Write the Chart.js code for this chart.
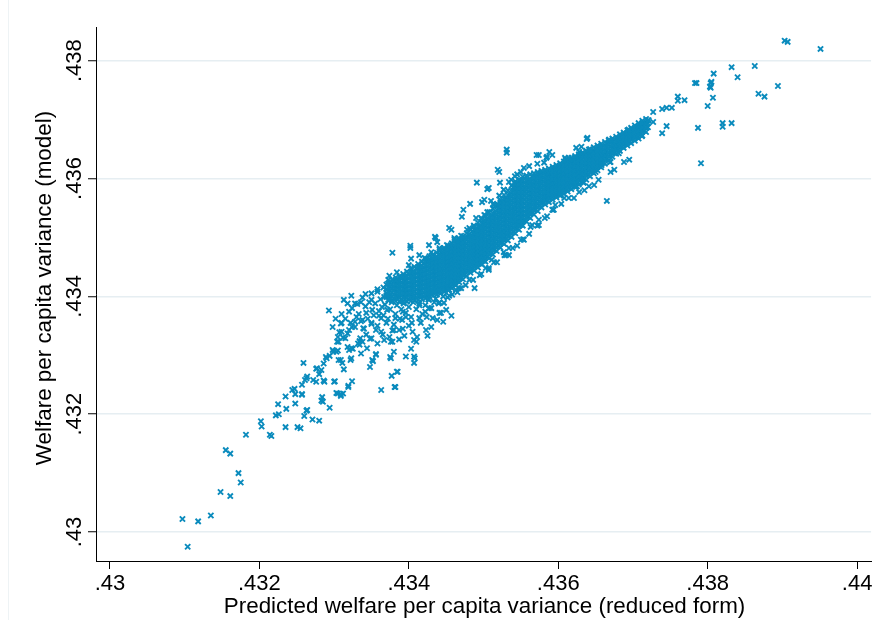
<!DOCTYPE html>
<html>
<head>
<meta charset="utf-8">
<script src="https://cdn.jsdelivr.net/npm/chart.js@4.4.1/dist/chart.umd.min.js"></script>
<style>
  html, body { margin: 0; padding: 0; background: #fff; }
  canvas { display: block; }
</style>
</head>
<body>
<canvas id="chart" width="877" height="620"></canvas>
<script>
// all values below are in thousandths (434.25 means .43425)
const xTicks = [430, 432, 434, 436, 438, 440];
const yTicks = [430, 432, 434, 436, 438];
const xTitle = "Predicted welfare per capita variance (reduced form)";
const yTitle = "Welfare per capita variance (model)";

// dense core of the cloud, one column of y values per x
const coreX = [433.70, 433.75, 433.80, 433.85, 433.90, 433.95, 434.00, 434.05, 434.10, 434.15,
  434.20, 434.25, 434.30, 434.35, 434.40, 434.45, 434.50, 434.55, 434.60, 434.65,
  434.70, 434.75, 434.80, 434.85, 434.90, 434.95, 435.00, 435.05, 435.10, 435.15,
  435.20, 435.25, 435.30, 435.35, 435.40, 435.45, 435.50, 435.55, 435.60, 435.65,
  435.70, 435.75, 435.80, 435.85, 435.90, 435.95, 436.00, 436.05, 436.10, 436.15,
  436.20, 436.25, 436.30, 436.35, 436.40, 436.45, 436.50, 436.55, 436.60, 436.65,
  436.70, 436.75, 436.80, 436.85, 436.90, 436.95, 437.00, 437.05, 437.10, 437.15, 437.20];
const coreY = [
  [433.99, 434.06, 434.13, 434.20],
  [434.02, 434.09, 434.16, 434.23],
  [433.97, 434.04, 434.11, 434.18, 434.25],
  [434.00, 434.07, 434.14, 434.21, 434.28],
  [433.96, 434.03, 434.10, 434.17, 434.24, 434.31],
  [433.99, 434.06, 434.13, 434.20, 434.27, 434.34],
  [433.96, 434.03, 434.10, 434.17, 434.24, 434.31, 434.38],
  [433.99, 434.06, 434.13, 434.20, 434.27, 434.34, 434.41],
  [433.98, 434.05, 434.12, 434.19, 434.26, 434.33, 434.40, 434.47],
  [434.01, 434.08, 434.15, 434.22, 434.29, 434.36, 434.43, 434.50],
  [434.00, 434.07, 434.14, 434.21, 434.28, 434.35, 434.42, 434.49, 434.56],
  [434.03, 434.10, 434.17, 434.24, 434.31, 434.38, 434.45, 434.52, 434.59],
  [434.05, 434.12, 434.19, 434.26, 434.33, 434.40, 434.47, 434.54, 434.61],
  [434.08, 434.15, 434.22, 434.29, 434.36, 434.43, 434.50, 434.57, 434.64],
  [434.09, 434.16, 434.23, 434.30, 434.37, 434.44, 434.51, 434.58, 434.65, 434.71],
  [434.12, 434.19, 434.26, 434.33, 434.40, 434.47, 434.54, 434.61, 434.68, 434.75],
  [434.14, 434.21, 434.28, 434.35, 434.42, 434.49, 434.56, 434.63, 434.70, 434.77],
  [434.17, 434.24, 434.31, 434.38, 434.45, 434.52, 434.59, 434.66, 434.73, 434.80],
  [434.21, 434.28, 434.35, 434.42, 434.49, 434.56, 434.63, 434.70, 434.77, 434.84],
  [434.26, 434.33, 434.40, 434.47, 434.54, 434.61, 434.68, 434.75, 434.82, 434.89],
  [434.31, 434.38, 434.45, 434.52, 434.59, 434.66, 434.73, 434.80, 434.87, 434.94],
  [434.37, 434.44, 434.51, 434.58, 434.65, 434.72, 434.79, 434.86, 434.93, 434.99],
  [434.43, 434.50, 434.57, 434.64, 434.71, 434.78, 434.85, 434.92, 434.99, 435.05],
  [434.47, 434.54, 434.61, 434.68, 434.75, 434.82, 434.89, 434.96, 435.03, 435.10],
  [434.51, 434.58, 434.65, 434.72, 434.79, 434.86, 434.93, 435.00, 435.07, 435.14],
  [434.56, 434.63, 434.70, 434.77, 434.84, 434.91, 434.98, 435.05, 435.12, 435.19],
  [434.61, 434.68, 434.75, 434.82, 434.89, 434.96, 435.03, 435.10, 435.17, 435.24],
  [434.67, 434.74, 434.81, 434.88, 434.95, 435.02, 435.09, 435.16, 435.23, 435.30],
  [434.73, 434.80, 434.87, 434.94, 435.01, 435.08, 435.15, 435.22, 435.29, 435.36],
  [434.79, 434.86, 434.93, 435.00, 435.07, 435.14, 435.21, 435.28, 435.35, 435.42],
  [434.85, 434.92, 434.99, 435.06, 435.13, 435.20, 435.27, 435.34, 435.41, 435.48, 435.55],
  [434.91, 434.98, 435.05, 435.12, 435.19, 435.26, 435.33, 435.40, 435.47, 435.54, 435.61],
  [434.97, 435.04, 435.11, 435.18, 435.25, 435.32, 435.39, 435.46, 435.53, 435.60, 435.67],
  [435.03, 435.10, 435.17, 435.24, 435.31, 435.38, 435.45, 435.52, 435.59, 435.66, 435.73],
  [435.09, 435.16, 435.23, 435.30, 435.37, 435.44, 435.51, 435.58, 435.65, 435.72, 435.79, 435.85],
  [435.15, 435.22, 435.29, 435.36, 435.43, 435.50, 435.57, 435.64, 435.71, 435.78, 435.85, 435.92],
  [435.21, 435.28, 435.35, 435.42, 435.49, 435.56, 435.63, 435.70, 435.77, 435.84, 435.91, 435.97],
  [435.29, 435.36, 435.43, 435.50, 435.57, 435.64, 435.71, 435.78, 435.85, 435.92, 435.99],
  [435.35, 435.42, 435.49, 435.56, 435.63, 435.70, 435.77, 435.84, 435.91, 435.98],
  [435.41, 435.48, 435.55, 435.62, 435.69, 435.76, 435.83, 435.90, 435.97, 436.03],
  [435.47, 435.54, 435.61, 435.68, 435.75, 435.82, 435.89, 435.96, 436.03],
  [435.53, 435.60, 435.67, 435.74, 435.81, 435.88, 435.95, 436.02, 436.07],
  [435.59, 435.66, 435.73, 435.80, 435.87, 435.94, 436.01, 436.08],
  [435.63, 435.70, 435.77, 435.84, 435.91, 435.98, 436.05, 436.11],
  [435.67, 435.74, 435.81, 435.88, 435.95, 436.02, 436.09, 436.14],
  [435.71, 435.78, 435.85, 435.92, 435.99, 436.06, 436.13, 436.17],
  [435.74, 435.81, 435.88, 435.95, 436.02, 436.09, 436.16, 436.20],
  [435.77, 435.84, 435.91, 435.98, 436.05, 436.12, 436.19, 436.23],
  [435.81, 435.88, 435.95, 436.02, 436.09, 436.16, 436.23, 436.26],
  [435.85, 435.92, 435.99, 436.06, 436.13, 436.20, 436.27],
  [435.89, 435.96, 436.03, 436.10, 436.17, 436.24, 436.31],
  [435.93, 436.00, 436.07, 436.14, 436.21, 436.28, 436.35],
  [435.97, 436.04, 436.11, 436.18, 436.25, 436.32, 436.38],
  [436.01, 436.08, 436.15, 436.22, 436.29, 436.36, 436.41],
  [436.06, 436.13, 436.20, 436.27, 436.34, 436.41, 436.44],
  [436.11, 436.18, 436.25, 436.32, 436.39, 436.46],
  [436.16, 436.23, 436.30, 436.37, 436.44, 436.50],
  [436.21, 436.28, 436.35, 436.42, 436.49, 436.53],
  [436.27, 436.34, 436.41, 436.48, 436.55],
  [436.33, 436.40, 436.47, 436.54, 436.59],
  [436.39, 436.46, 436.53, 436.60],
  [436.44, 436.51, 436.58, 436.65],
  [436.49, 436.56, 436.63, 436.68],
  [436.54, 436.61, 436.68, 436.72],
  [436.59, 436.66, 436.73],
  [436.63, 436.70, 436.77],
  [436.67, 436.74, 436.81],
  [436.71, 436.78, 436.85],
  [436.75, 436.82, 436.89],
  [436.81, 436.88, 436.94],
  [436.87, 436.94, 436.99]
];

// in-between columns of the core, first number of each row is x
const coreFill = [
  [433.725, 433.94, 434.01, 434.08, 434.15, 434.22, 434.28],
  [433.775, 433.93, 434.00, 434.07, 434.14, 434.21, 434.28],
  [433.825, 433.92, 433.99, 434.06, 434.13, 434.20, 434.27, 434.32],
  [433.875, 433.91, 433.98, 434.05, 434.12, 434.19, 434.26, 434.34],
  [433.925, 433.91, 433.98, 434.05, 434.12, 434.19, 434.26, 434.33, 434.38],
  [433.975, 433.91, 433.98, 434.05, 434.12, 434.19, 434.26, 434.33, 434.42],
  [434.025, 433.92, 433.99, 434.06, 434.13, 434.20, 434.27, 434.34, 434.41, 434.47],
  [434.075, 433.93, 434.00, 434.07, 434.14, 434.21, 434.28, 434.35, 434.42, 434.50],
  [434.125, 433.94, 434.01, 434.08, 434.15, 434.22, 434.29, 434.36, 434.43, 434.50, 434.55],
  [434.175, 433.95, 434.02, 434.09, 434.16, 434.23, 434.30, 434.37, 434.44, 434.51, 434.59],
  [434.225, 433.97, 434.04, 434.11, 434.18, 434.25, 434.32, 434.39, 434.46, 434.53, 434.60, 434.64],
  [434.275, 433.99, 434.06, 434.13, 434.20, 434.27, 434.34, 434.41, 434.48, 434.55, 434.62, 434.68],
  [434.325, 434.01, 434.08, 434.15, 434.22, 434.29, 434.36, 434.43, 434.50, 434.57, 434.64, 434.71],
  [434.375, 434.03, 434.10, 434.17, 434.24, 434.31, 434.38, 434.45, 434.52, 434.59, 434.66, 434.74],
  [434.425, 434.05, 434.12, 434.19, 434.26, 434.33, 434.40, 434.47, 434.54, 434.61, 434.68, 434.78],
  [434.475, 434.08, 434.15, 434.22, 434.29, 434.36, 434.43, 434.50, 434.57, 434.64, 434.71, 434.78, 434.82],
  [434.525, 434.11, 434.18, 434.25, 434.32, 434.39, 434.46, 434.53, 434.60, 434.67, 434.74, 434.81, 434.86],
  [434.575, 434.14, 434.21, 434.28, 434.35, 434.42, 434.49, 434.56, 434.63, 434.70, 434.77, 434.84, 434.90],
  [434.625, 434.19, 434.26, 434.33, 434.40, 434.47, 434.54, 434.61, 434.68, 434.75, 434.82, 434.89, 434.94],
  [434.675, 434.24, 434.31, 434.38, 434.45, 434.52, 434.59, 434.66, 434.73, 434.80, 434.87, 434.94, 434.98],
  [434.725, 434.29, 434.36, 434.43, 434.50, 434.57, 434.64, 434.71, 434.78, 434.85, 434.92, 434.99, 435.02],
  [434.775, 434.35, 434.42, 434.49, 434.56, 434.63, 434.70, 434.77, 434.84, 434.91, 434.98, 435.07],
  [434.825, 434.40, 434.47, 434.54, 434.61, 434.68, 434.75, 434.82, 434.89, 434.96, 435.03, 435.13],
  [434.875, 434.44, 434.51, 434.58, 434.65, 434.72, 434.79, 434.86, 434.93, 435.00, 435.07, 435.14, 435.19],
  [434.925, 434.49, 434.56, 434.63, 434.70, 434.77, 434.84, 434.91, 434.98, 435.05, 435.12, 435.19, 435.25],
  [434.975, 434.54, 434.61, 434.68, 434.75, 434.82, 434.89, 434.96, 435.03, 435.10, 435.17, 435.24, 435.31],
  [435.025, 434.59, 434.66, 434.73, 434.80, 434.87, 434.94, 435.01, 435.08, 435.15, 435.22, 435.29, 435.37],
  [435.075, 434.65, 434.72, 434.79, 434.86, 434.93, 435.00, 435.07, 435.14, 435.21, 435.28, 435.35, 435.43],
  [435.125, 434.71, 434.78, 434.85, 434.92, 434.99, 435.06, 435.13, 435.20, 435.27, 435.34, 435.41, 435.49],
  [435.175, 434.77, 434.84, 434.91, 434.98, 435.05, 435.12, 435.19, 435.26, 435.33, 435.40, 435.47, 435.56],
  [435.225, 434.83, 434.90, 434.97, 435.04, 435.11, 435.18, 435.25, 435.32, 435.39, 435.46, 435.53, 435.60, 435.64],
  [435.275, 434.89, 434.96, 435.03, 435.10, 435.17, 435.24, 435.31, 435.38, 435.45, 435.52, 435.59, 435.66, 435.72],
  [435.325, 434.95, 435.02, 435.09, 435.16, 435.23, 435.30, 435.37, 435.44, 435.51, 435.58, 435.65, 435.72, 435.80],
  [435.375, 435.01, 435.08, 435.15, 435.22, 435.29, 435.36, 435.43, 435.50, 435.57, 435.64, 435.71, 435.78, 435.88],
  [435.425, 435.07, 435.14, 435.21, 435.28, 435.35, 435.42, 435.49, 435.56, 435.63, 435.70, 435.77, 435.84, 435.91, 435.95],
  [435.475, 435.13, 435.20, 435.27, 435.34, 435.41, 435.48, 435.55, 435.62, 435.69, 435.76, 435.83, 435.90, 435.98],
  [435.525, 435.20, 435.27, 435.34, 435.41, 435.48, 435.55, 435.62, 435.69, 435.76, 435.83, 435.90, 435.97, 436.03],
  [435.575, 435.27, 435.34, 435.41, 435.48, 435.55, 435.62, 435.69, 435.76, 435.83, 435.90, 435.97, 436.05],
  [435.625, 435.33, 435.40, 435.47, 435.54, 435.61, 435.68, 435.75, 435.82, 435.89, 435.96, 436.07],
  [435.675, 435.39, 435.46, 435.53, 435.60, 435.67, 435.74, 435.81, 435.88, 435.95, 436.02, 436.09],
  [435.725, 435.45, 435.52, 435.59, 435.66, 435.73, 435.80, 435.87, 435.94, 436.01, 436.08, 436.11],
  [435.775, 435.51, 435.58, 435.65, 435.72, 435.79, 435.86, 435.93, 436.00, 436.07, 436.13],
  [435.825, 435.56, 435.63, 435.70, 435.77, 435.84, 435.91, 435.98, 436.05, 436.12, 436.15],
  [435.875, 435.60, 435.67, 435.74, 435.81, 435.88, 435.95, 436.02, 436.09, 436.17],
  [435.925, 435.64, 435.71, 435.78, 435.85, 435.92, 435.99, 436.06, 436.13, 436.20],
  [435.975, 435.68, 435.75, 435.82, 435.89, 435.96, 436.03, 436.10, 436.17, 436.23],
  [436.025, 435.71, 435.78, 435.85, 435.92, 435.99, 436.06, 436.13, 436.20, 436.26],
  [436.075, 435.74, 435.81, 435.88, 435.95, 436.02, 436.09, 436.16, 436.23, 436.29],
  [436.125, 435.78, 435.85, 435.92, 435.99, 436.06, 436.13, 436.20, 436.27, 436.32],
  [436.175, 435.82, 435.89, 435.96, 436.03, 436.10, 436.17, 436.24, 436.31, 436.35],
  [436.225, 435.86, 435.93, 436.00, 436.07, 436.14, 436.21, 436.28, 436.35, 436.38],
  [436.275, 435.90, 435.97, 436.04, 436.11, 436.18, 436.25, 436.32, 436.41],
  [436.325, 435.94, 436.01, 436.08, 436.15, 436.22, 436.29, 436.36, 436.44],
  [436.375, 435.98, 436.05, 436.12, 436.19, 436.26, 436.33, 436.40, 436.47],
  [436.425, 436.04, 436.11, 436.18, 436.25, 436.32, 436.39, 436.46, 436.50],
  [436.475, 436.09, 436.16, 436.23, 436.30, 436.37, 436.44, 436.53],
  [436.525, 436.14, 436.21, 436.28, 436.35, 436.42, 436.49, 436.56],
  [436.575, 436.19, 436.26, 436.33, 436.40, 436.47, 436.54, 436.59],
  [436.625, 436.25, 436.32, 436.39, 436.46, 436.53, 436.62],
  [436.675, 436.31, 436.38, 436.45, 436.52, 436.59, 436.65],
  [436.725, 436.37, 436.44, 436.51, 436.58, 436.64, 436.68],
  [436.775, 436.42, 436.49, 436.56, 436.63, 436.71],
  [436.825, 436.47, 436.54, 436.61, 436.68, 436.75],
  [436.875, 436.52, 436.59, 436.66, 436.73, 436.78],
  [436.925, 436.56, 436.63, 436.70, 436.78, 436.82],
  [436.975, 436.60, 436.67, 436.74, 436.81, 436.86],
  [437.025, 436.64, 436.71, 436.78, 436.85, 436.90],
  [437.075, 436.68, 436.75, 436.82, 436.89, 436.94],
  [437.125, 436.73, 436.80, 436.87, 436.94, 436.98],
  [437.175, 436.79, 436.86, 436.93, 437.01]
];

// sparse lower-left tail
const tailPoints = [
  [430.97, 430.22], [431.04, 429.75], [431.18, 430.18], [431.35, 430.28], [431.48, 430.68],
  [431.61, 430.61], [431.72, 431.00], [431.75, 430.84], [431.55, 431.39], [431.61, 431.33],
  [431.82, 431.65], [432.02, 431.88], [432.03, 431.79], [432.14, 431.65], [432.16, 431.63],
  [432.22, 431.98], [432.26, 432.00], [432.25, 432.17], [432.35, 432.30], [432.36, 432.09],
  [432.35, 431.78], [432.44, 432.41], [432.47, 432.43], [432.48, 432.18], [432.51, 431.78],
  [432.55, 431.76], [432.71, 431.91], [432.80, 431.89], [432.60, 431.97], [432.63, 432.06],
  [432.64, 432.07], [432.48, 432.34], [432.57, 432.33], [432.57, 432.50], [432.61, 432.58],
  [432.64, 432.64], [432.72, 432.58], [432.76, 432.55], [432.76, 432.77], [432.80, 432.68],
  [432.86, 432.57], [432.83, 432.23], [432.85, 432.21], [432.94, 432.11], [432.86, 432.86],
  [432.90, 432.95], [432.94, 432.99], [433.01, 432.56], [433.05, 432.35], [433.09, 432.31],
  [433.12, 432.35], [433.19, 432.48], [433.24, 432.56], [432.99, 433.06], [433.05, 433.08],
  [433.06, 432.92], [433.13, 432.76], [433.22, 432.92], [433.07, 433.39], [433.06, 433.23],
  [433.09, 433.54], [432.93, 433.76], [432.59, 432.87], [432.84, 432.29], [432.63, 432.61],
  [432.87, 432.55], [433.00, 432.55], [432.77, 432.78], [432.83, 432.75], [432.89, 432.97],
  [433.03, 433.06], [433.09, 432.92], [433.11, 432.87], [433.23, 432.95], [433.19, 432.46],
  [433.03, 432.36], [433.09, 432.34], [432.57, 432.34]
];

// looser blob below the start of the core
const blobPoints = [
  [433.18, 433.37], [433.20, 433.09], [433.25, 433.11], [433.48, 432.80], [433.51, 432.92],
  [433.63, 432.41], [433.77, 432.65], [433.81, 432.46], [433.85, 432.72], [433.96, 432.98],
  [434.07, 432.87], [434.07, 432.98], [434.03, 433.11], [433.75, 432.97], [433.56, 433.02],
  [433.36, 433.03], [433.34, 433.24], [433.43, 433.35], [433.58, 433.20], [433.78, 433.23],
  [433.87, 433.27], [433.10, 433.55], [433.20, 433.74], [433.24, 433.80], [433.36, 433.90],
  [433.52, 432.90], [433.56, 433.01], [433.76, 432.95], [433.84, 432.72], [433.82, 432.46],
  [434.08, 432.95], [433.80, 433.06], [433.74, 433.31], [433.76, 433.23], [433.56, 433.43],
  [433.35, 433.29], [433.38, 433.23], [433.20, 433.43], [433.24, 433.48], [433.10, 433.40],
  [433.05, 433.31], [432.98, 433.09], [433.04, 433.23], [433.23, 433.12], [433.18, 433.14],
  [433.30, 433.65], [433.38, 433.60], [433.43, 433.72], [433.47, 433.90], [433.51, 433.77],
  [433.63, 433.63], [433.70, 433.55], [433.63, 433.40], [433.64, 433.82], [433.74, 433.94],
  [433.87, 433.43], [433.91, 433.60], [433.96, 433.65], [434.04, 433.55], [434.11, 433.31],
  [434.10, 433.23], [434.23, 433.43], [434.30, 433.48], [434.38, 433.60], [434.43, 433.72],
  [434.50, 433.77], [434.63, 434.11], [434.70, 434.14], [434.36, 433.96],
  [433.15, 433.62], [433.22, 433.55], [433.28, 433.48], [433.33, 433.70], [433.36, 433.58],
  [433.40, 433.45], [433.42, 433.83], [433.45, 433.62], [433.50, 433.55], [433.53, 433.68],
  [433.55, 433.88], [433.58, 433.50], [433.60, 433.75], [433.62, 433.95], [433.66, 433.68],
  [433.68, 433.86], [433.70, 434.02], [433.72, 433.62], [433.75, 433.78], [433.77, 433.90],
  [433.80, 433.52], [433.82, 433.70], [433.84, 433.85], [433.88, 433.62], [433.90, 433.78],
  [433.93, 433.88], [433.96, 433.72], [434.00, 433.82], [434.03, 433.65], [434.06, 433.90],
  [434.10, 433.78], [434.14, 433.88], [434.18, 433.70], [434.22, 433.85], [434.26, 433.95],
  [434.30, 433.80], [434.34, 433.90], [434.40, 433.88], [434.46, 434.00], [434.52, 433.98],
  [433.48, 433.28], [433.65, 433.35], [433.78, 433.42], [433.92, 433.45], [434.05, 433.40],
  [434.16, 433.55], [434.24, 433.65], [433.32, 433.20], [433.44, 433.12], [433.28, 433.88],
  [433.18, 433.88], [433.10, 433.70], [433.02, 433.62], [432.98, 433.48], [433.12, 433.30],
  [433.38, 433.98], [433.50, 434.05], [433.58, 434.12], [433.66, 434.15],
  [433.13, 433.94], [433.23, 434.01], [433.31, 433.87], [433.42, 434.04], [433.50, 433.94],
  [433.58, 434.08], [433.67, 433.99], [433.28, 433.57], [433.39, 433.46], [433.50, 433.53],
  [433.60, 433.67], [433.71, 433.77], [433.82, 433.63], [433.92, 433.74], [434.00, 433.50],
  [434.14, 433.63], [434.22, 433.74], [434.32, 433.63], [434.46, 433.57], [434.57, 433.67],
  [433.15, 433.29], [433.34, 433.18], [433.80, 433.43], [433.94, 433.33], [434.07, 433.26],
  [434.25, 433.33], [433.67, 433.26], [433.50, 433.29]
];

// scattered points along the edges of the core
const edgePoints = [
  [433.78, 434.74], [434.02, 434.86], [434.02, 434.82], [434.27, 434.87], [434.35, 435.01],
  [434.36, 434.99], [434.38, 434.92], [434.03, 434.64], [434.54, 435.16], [434.57, 435.13],
  [434.71, 435.35], [434.73, 435.47], [434.82, 435.57], [434.98, 435.60], [435.01, 435.64],
  [434.91, 435.93], [435.05, 435.82], [435.07, 435.84], [435.22, 435.93], [435.19, 436.15],
  [435.21, 436.11], [435.31, 436.49], [435.31, 436.44], [435.71, 436.40], [435.85, 436.37],
  [435.92, 436.40], [435.74, 436.40], [435.88, 436.45], [435.84, 436.35], [436.09, 436.35],
  [436.10, 436.32], [436.28, 436.45], [436.24, 436.52], [436.31, 436.54], [436.39, 436.69],
  [436.70, 436.28], [436.58, 436.23], [436.50, 436.11], [436.34, 435.93], [436.24, 435.86],
  [436.25, 435.87], [436.08, 435.67], [435.96, 435.55], [435.92, 435.47], [435.74, 435.30],
  [435.65, 435.21], [435.63, 435.18], [435.53, 434.97], [435.34, 434.82], [435.27, 434.75],
  [435.30, 434.70], [435.11, 434.62], [435.14, 434.58], [435.03, 434.48], [434.88, 434.14],
  [434.67, 434.14], [434.47, 433.89], [434.41, 433.72], [436.65, 435.62], [436.81, 436.43],
  [434.14, 434.70], [434.41, 434.82], [434.61, 434.96], [434.81, 435.16], [435.01, 435.38],
  [435.14, 435.55], [435.27, 435.81], [435.37, 435.98], [435.54, 436.18], [435.81, 436.27],
  [436.14, 436.35], [436.41, 436.49], [436.68, 436.66], [436.94, 436.83],
  [434.27, 433.94], [434.54, 434.11], [434.81, 434.28], [435.07, 434.45], [435.34, 434.70],
  [435.54, 434.96], [435.74, 435.21], [435.94, 435.47], [436.21, 435.67], [436.48, 435.89],
  [436.75, 436.15], [436.95, 436.32], [434.58, 434.03], [434.95, 434.36], [435.45, 434.86],
  [435.85, 435.36], [436.35, 435.80], [434.90, 435.33], [435.10, 435.62], [435.45, 436.07]
];

// ragged fringe just outside the core, upper side then lower side
const fringePoints = [
  [434.41, 434.79], [434.51, 434.87], [434.61, 434.99], [434.70, 435.03], [434.78, 435.13],
  [434.87, 435.20], [434.97, 435.33], [435.05, 435.43], [435.13, 435.57], [435.21, 435.71],
  [435.27, 435.81], [435.34, 435.94], [435.42, 436.04], [435.50, 436.11], [435.61, 436.21],
  [435.72, 436.25], [434.21, 434.65], [434.30, 434.75], [434.00, 434.53], [433.84, 434.41],
  [433.74, 434.35],
  [434.14, 433.85], [434.27, 433.80], [434.41, 433.90], [434.54, 434.01], [434.65, 434.07],
  [434.76, 434.19], [434.86, 434.28], [434.97, 434.38], [435.07, 434.48], [435.18, 434.58],
  [435.28, 434.70], [435.39, 434.82], [435.50, 434.96], [435.61, 435.06], [435.72, 435.20],
  [435.82, 435.33], [435.93, 435.47], [436.04, 435.57], [436.14, 435.67], [436.28, 435.77],
  [436.41, 435.87], [436.54, 435.98], [436.70, 436.11], [436.88, 436.28]
];

// upper-right tail and outliers
const topPoints = [
  [439.03, 438.34], [439.07, 438.32], [439.51, 438.20], [438.32, 437.89], [438.63, 437.91],
  [438.08, 437.78], [438.40, 437.72], [437.83, 437.62], [437.85, 437.62], [438.04, 437.62],
  [438.05, 437.64], [438.03, 437.56], [438.04, 437.54], [438.94, 437.57], [438.68, 437.44],
  [438.76, 437.39], [438.07, 437.37], [438.00, 437.23], [437.87, 436.86], [438.20, 436.94],
  [438.20, 436.88], [438.32, 436.94], [437.91, 436.26], [437.69, 437.33], [437.60, 437.39],
  [437.60, 437.32], [437.45, 437.20], [437.52, 437.20], [437.39, 437.18], [437.27, 437.13],
  [437.27, 436.96], [437.21, 436.99], [437.45, 436.89], [437.39, 436.77], [437.12, 436.72],
  [436.69, 436.28], [436.34, 435.93], [436.38, 436.67]
];

const fmt = (v) => (v / 1000).toFixed(3).replace(/0+$/, "").replace(/^0/, "");
const FONT = '"Liberation Sans", Arial, Helvetica, sans-serif';

const points = [];
coreX.forEach((x, i) => {
  coreY[i].forEach((y) => points.push({ x: x / 1000, y: y / 1000 }));
});
coreFill.forEach(([x, ...ys]) => {
  ys.forEach((y) => points.push({ x: x / 1000, y: y / 1000 }));
});
[tailPoints, blobPoints, edgePoints, fringePoints, topPoints].forEach((list) => {
  list.forEach(([x, y]) => points.push({ x: x / 1000, y: y / 1000 }));
});

const textPlugin = {
  id: "stataText",
  beforeDraw(chart) {
    const ctx = chart.ctx;
    ctx.save();
    ctx.fillStyle = "#ffffff";
    ctx.fillRect(0, 0, chart.width, chart.height);
    ctx.strokeStyle = "#eef3f5";
    ctx.lineWidth = 1;
    ctx.beginPath();
    ctx.moveTo(8.5, 0);
    ctx.lineTo(8.5, chart.height);
    ctx.stroke();
    ctx.restore();
  },
  afterDraw(chart) {
    const { ctx, scales, chartArea } = chart;
    ctx.save();
    ctx.fillStyle = "#000000";
    ctx.font = "22px " + FONT;
    ctx.textAlign = "center";
    ctx.textBaseline = "alphabetic";

    xTicks.forEach((v) => {
      ctx.fillText(fmt(v), scales.x.getPixelForValue(v / 1000), 590);
    });

    yTicks.forEach((v) => {
      ctx.save();
      ctx.translate(81, scales.y.getPixelForValue(v / 1000));
      ctx.rotate(-Math.PI / 2);
      ctx.fillText(fmt(v), 0, 0);
      ctx.restore();
    });

    ctx.font = "22.4px " + FONT;
    ctx.fillText(xTitle, (chartArea.left + chartArea.right) / 2 + 1, 613);

    ctx.save();
    ctx.translate(51, 288);
    ctx.rotate(-Math.PI / 2);
    ctx.fillText(yTitle, 0, 0);
    ctx.restore();

    ctx.restore();
  }
};

new Chart(document.getElementById("chart"), {
  type: "scatter",
  data: {
    datasets: [{
      data: points,
      pointStyle: "crossRot",
      pointRadius: 3.7,
      pointBorderWidth: 1.9,
      borderColor: "#0a8bbd",
      backgroundColor: "#0a8bbd"
    }]
  },
  options: {
    responsive: false,
    animation: false,
    events: [],
    layout: { padding: { left: 0, top: 27, right: 5, bottom: 0 } },
    plugins: {
      legend: { display: false },
      tooltip: { enabled: false }
    },
    scales: {
      x: {
        type: "linear",
        min: 0.429813,
        max: 0.440187,
        afterBuildTicks: (scale) => {
          scale.ticks = xTicks.map((v) => ({ value: v / 1000 }));
        },
        afterFit: (scale) => { scale.height = 59; },
        ticks: { display: false },
        grid: {
          drawOnChartArea: false,
          drawTicks: true,
          tickLength: 8,
          tickColor: "#000000",
          tickWidth: 1
        },
        border: { display: true, color: "#000000", width: 1 }
      },
      y: {
        type: "linear",
        min: 0.429508,
        max: 0.438572,
        afterBuildTicks: (scale) => {
          scale.ticks = yTicks.map((v) => ({ value: v / 1000 }));
        },
        afterFit: (scale) => { scale.width = 96; },
        ticks: { display: false },
        grid: {
          color: "#e6eef2",
          lineWidth: 1.5,
          drawTicks: true,
          tickLength: 8,
          tickColor: "#000000",
          tickWidth: 1
        },
        border: { display: true, color: "#000000", width: 1 }
      }
    }
  },
  plugins: [textPlugin]
});
</script>
</body>
</html>
